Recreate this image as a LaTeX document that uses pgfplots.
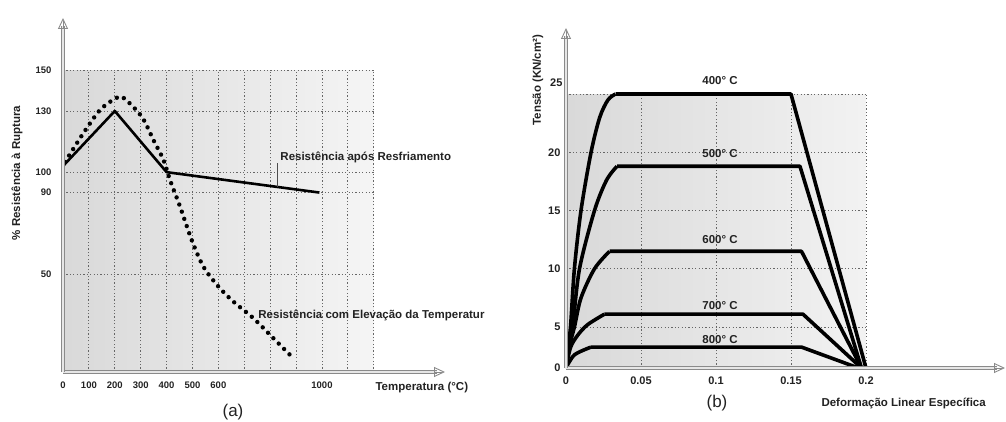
\documentclass[border=0pt]{standalone}
\usepackage{pgfplots}
\pgfplotsset{compat=1.18}
\usepackage{fontspec}
\setmainfont{Liberation Sans}
\usetikzlibrary{arrows.meta,calc}
\definecolor{txt}{HTML}{222222}
\definecolor{gridc}{HTML}{666666}
\definecolor{axc}{HTML}{8a8a8a}
\definecolor{axin}{HTML}{e6e6e6}
\tikzset{
  gridl/.style={gridc, line width=0.85pt, dash pattern=on 1.2pt off 2.2pt},
  lbl/.style={font=\bfseries\fontsize{11.5}{13}\selectfont, text=txt},
}
\newcommand{\axline}[2]{%
  \draw[axc, line width=3.4pt, shorten >=8pt] #1 -- #2;
  \draw[axin, line width=1.5pt, shorten >=8pt] #1 -- #2;
  \draw[axc, line width=0.9pt, -{Triangle[open, length=11pt, width=10pt]}] ($#2!3pt!#1$) -- #2;
}
\begin{document}
\begin{tikzpicture}
% ---------------- panel (a) ----------------
\begin{axis}[
  at={(63pt,49pt)}, anchor=south west,
  scale only axis, width=382pt, height=354pt,
  xmin=0, xmax=1475, ymin=2, ymax=175.6,
  axis lines=left, axis line style={draw=none},
  clip=false,
  xtick={0,100,200,300,400,500,600,1000},
  xticklabels={0,100,200,300,400,500,600,1000},
  ytick={50,90,100,130,150},
  yticklabels={50,90,100,130,150},
  major tick length=0pt,
  tick label style={font=\bfseries\fontsize{9.5}{11}\selectfont, text=txt},
  xticklabel style={yshift=-6pt},
  yticklabel style={xshift=-8pt},
]
\fill[left color=black!15, right color=black!4] (axis cs:0,2) rectangle (axis cs:1200,150);
\pgfplotsinvokeforeach{100,200,300,400,500,600,700,800,900,1000,1100,1200}{
  \draw[gridl] (axis cs:#1,2) -- (axis cs:#1,150);
}
\pgfplotsinvokeforeach{50,90,100,130,150}{
  \draw[gridl] (axis cs:0,#1) -- (axis cs:1200,#1);
}
% resistencia apos resfriamento
\addplot[black, line width=2.6pt, line join=round] coordinates {
  (0,103) (200,130) (400,100) (990,90)};
% resistencia com elevacao da temperatura
\addplot[black, line width=4.4pt, line cap=round, dash pattern=on 0pt off 7.6pt, smooth, tension=0.5] coordinates {
  (8,105) (78,119) (143,130.5) (201,136) (233,136.5) (304,127.2) (349,115.8) (388,106)
  (413,96.2) (452,83.1) (497,66.7) (542,53.7) (600,43.9) (658,36.5) (735,28.4) (812,18.6) (889,8.8)};
\draw[gray!60!black, line width=0.8pt] (axis cs:826,92.8) -- (axis cs:826,104.5);
\node[lbl, anchor=west] at (axis cs:826,107.4) {Resistência após Resfriamento};
\node[lbl, anchor=west] at (axis cs:741,30) {Resistência com Elevação da Temperatur};
\axline{(axis cs:0,2)}{(axis cs:1475,2)}
\axline{(axis cs:0,2)}{(axis cs:0,175.6)}
\end{axis}
\node[lbl, rotate=90] at (17pt,248pt) {\% Resistência à Ruptura};
\node[lbl, anchor=west] at (372pt,33pt) {Temperatura (°C)};
\node[font=\fontsize{17}{19}\selectfont, text=txt] at (233pt,9pt) {(a)};
% ---------------- panel (b) ----------------
\begin{axis}[
  at={(566pt,53pt)}, anchor=south west,
  scale only axis, width=439pt, height=340pt,
  xmin=0, xmax=0.2927, ymin=0, ymax=30.67,
  y coord trafo/.code={\pgfmathparse{(#1<5) ? (1.48+0.704*#1) : (#1)}},
  y coord inv trafo/.code={\pgfmathparse{(#1<5) ? ((#1-1.48)/0.704) : (#1)}},
  axis lines=left, axis line style={draw=none},
  clip=false,
  xtick={0,0.05,0.1,0.15,0.2},
  xticklabels={0,0.05,0.1,0.15,0.2},
  ytick={0,5,10,15,20},
  yticklabels={0,5,10,15,20},
  major tick length=0pt,
  tick label style={font=\bfseries\fontsize{11}{12}\selectfont, text=txt},
  xticklabel style={yshift=-5pt},
  yticklabel style={xshift=-2pt},
]
\fill[left color=black!15, right color=black!5] (axis cs:0,0) rectangle (axis cs:0.2,25);
\pgfplotsinvokeforeach{0.05,0.1,0.15,0.2}{
  \draw[gridl] (axis cs:#1,0) -- (axis cs:#1,25);
}
\pgfplotsinvokeforeach{5,10,15,20,25}{
  \draw[gridl] (axis cs:0,#1) -- (axis cs:0.2,#1);
}
% 400 C
\addplot[black, line width=3.6pt, smooth] coordinates {
  (0,0) (0.0012,2.5) (0.003,5) (0.0056,10) (0.010,15) (0.0167,20) (0.0225,23) (0.028,24.5) (0.033,25)};
\addplot[black, line width=3.6pt, line join=round] coordinates {(0.033,25) (0.150,25) (0.200,0)};
% 500 C
\addplot[black, line width=3.6pt, smooth] coordinates {
  (0,0) (0.0015,2.5) (0.0044,5) (0.009,10) (0.019,15) (0.027,17.6) (0.034,18.8)};
\addplot[black, line width=3.6pt, line join=round] coordinates {(0.034,18.8) (0.156,18.8) (0.197,0)};
% 600 C
\addplot[black, line width=3.6pt, smooth] coordinates {
  (0,0) (0.002,2.5) (0.0056,5) (0.010,7.5) (0.019,10) (0.029,11.5)};
\addplot[black, line width=3.6pt, line join=round] coordinates {(0.029,11.5) (0.157,11.5) (0.197,0)};
% 700 C
\addplot[black, line width=3.6pt, smooth] coordinates {
  (0,0) (0.003,2.5) (0.0078,4) (0.0144,5.2) (0.0256,6.1)};
\addplot[black, line width=3.6pt, line join=round] coordinates {(0.0256,6.1) (0.158,6.1) (0.197,0)};
% 800 C
\addplot[black, line width=3.6pt, smooth] coordinates {
  (0,0) (0.0056,1.6) (0.0167,2.55)};
\addplot[black, line width=3.6pt, line join=round] coordinates {(0.0167,2.55) (0.157,2.55) (0.195,0)};
\node[lbl] at (axis cs:0.1027,26.2) {400° C};
\node[lbl] at (axis cs:0.1027,19.85) {500° C};
\node[lbl] at (axis cs:0.1027,12.5) {600° C};
\node[lbl] at (axis cs:0.1027,6.8) {700° C};
\node[lbl] at (axis cs:0.1027,3.44) {800° C};
\node[font=\bfseries\fontsize{11}{12}\selectfont, text=txt, anchor=east] at (axis cs:0,26) {25};
\axline{(axis cs:0,0)}{(axis cs:0.2927,0)}
\axline{(axis cs:0,0)}{(axis cs:0,30.67)}
\end{axis}
\node[lbl, rotate=90] at (538pt,341pt) {Tensão (KN/cm²)};
\node[lbl, anchor=west] at (818pt,18pt) {Deformação Linear Específica};
\node[font=\fontsize{17}{19}\selectfont, text=txt] at (717pt,18pt) {(b)};
\pgfresetboundingbox
\useasboundingbox (0pt,0pt) rectangle (1006pt,421pt);
\end{tikzpicture}
\end{document}
